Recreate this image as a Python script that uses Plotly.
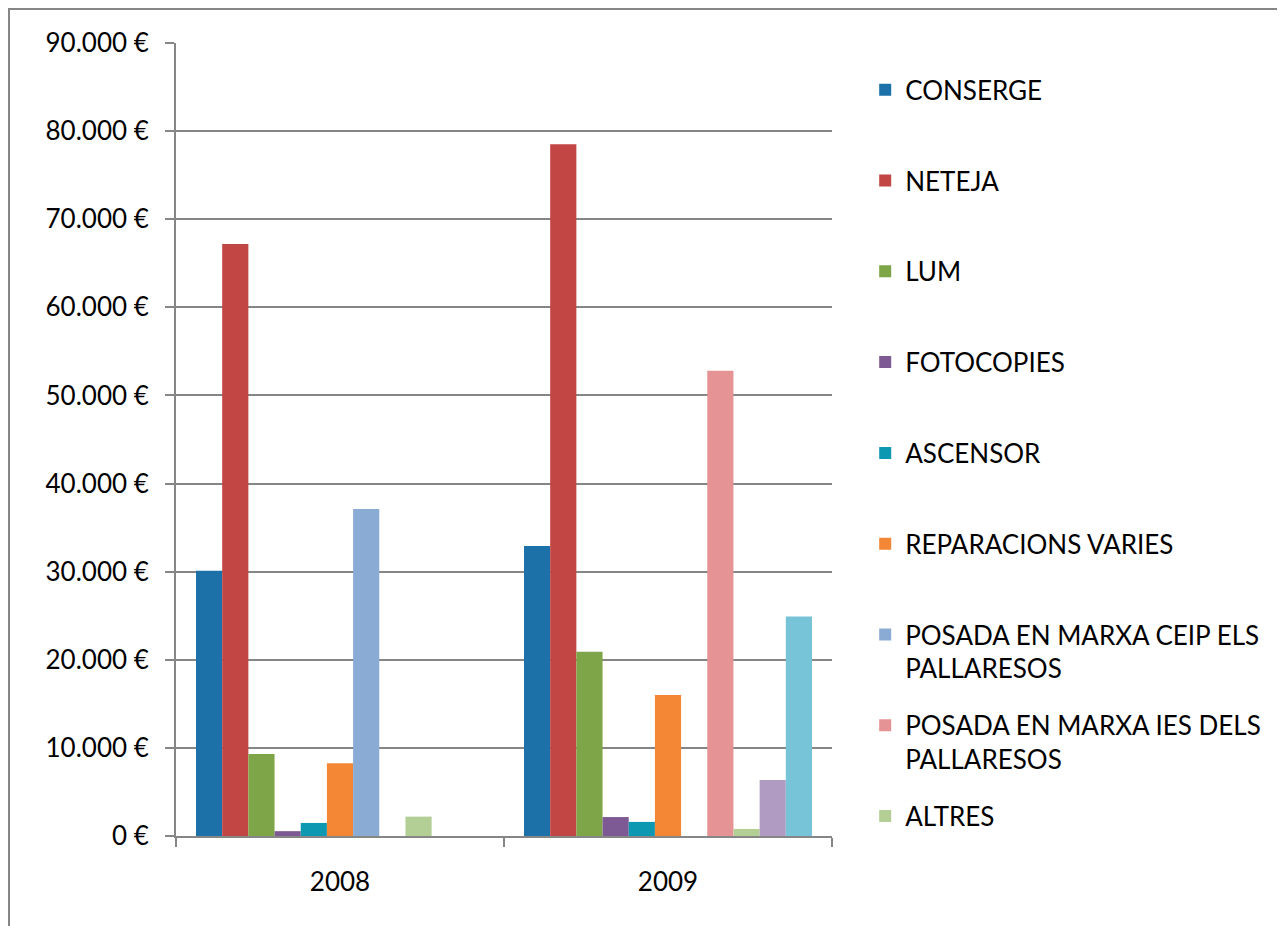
import plotly.graph_objects as go

years = ["2008", "2009"]
series_names = [
    "CONSERGE",
    "NETEJA",
    "LUM",
    "FOTOCOPIES",
    "ASCENSOR",
    "REPARACIONS VARIES",
    "POSADA EN MARXA CEIP ELS<br>PALLARESOS",
    "POSADA EN MARXA IES DELS<br>PALLARESOS",
    "ALTRES",
    "SÈRIE 10",
    "SÈRIE 11",
]
conserge = [30100, 32900]
neteja = [67200, 78500]
lum = [9300, 20900]
fotocopies = [550, 2150]
ascensor = [1480, 1600]
reparacions = [8250, 16000]
posada_ceip = [37100, 0]
posada_ies = [0, 52800]
altres = [2200, 800]
serie10 = [0, 6350]
serie11 = [0, 24900]
values = [conserge, neteja, lum, fotocopies, ascensor, reparacions,
          posada_ceip, posada_ies, altres, serie10, serie11]
in_legend = [True] * 9 + [False, False]
colors = ["#1C71A8", "#C24644", "#7EA547", "#7E5A95", "#0C98B1", "#F48736",
          "#8AACD4", "#E69395", "#B3CF95", "#B09CC3", "#77C3D8"]
y_ticks = [0, 10000, 20000, 30000, 40000, 50000, 60000, 70000, 80000, 90000]
y_ticktext = [f"{v:,.0f}".replace(",", ".") + " \u20ac" for v in y_ticks]

FONT = "Lato"
fig = go.Figure()
for i, (name, vals) in enumerate(zip(series_names, values)):
    label = name if "<br>" in name else name + "<br>&nbsp;"
    fig.add_trace(go.Bar(
        x=years, y=vals, name=label, legendgroup=f"g{i}",
        showlegend=in_legend[i],
        marker=dict(color=colors[i], line=dict(width=0)),
    ))

W, H = 1277, 918
L, T = 168, 35
PW, PH = 656, 793
fig.update_layout(
    width=W, height=H,
    margin=dict(l=L, r=W - L - PW, t=T, b=H - T - PH),
    paper_bgcolor="white", plot_bgcolor="white",
    barmode="group", bargap=0.122, bargroupgap=0,
    font=dict(family=FONT, size=26, color="black"),
    showlegend=True,
    legend=dict(
        x=1.0506, xanchor="left", y=0.9706, yanchor="top",
        valign="top", tracegroupgap=20.2, maxheight=H,
        font=dict(family=FONT, size=26, color="black"),
        bgcolor="rgba(0,0,0,0)", borderwidth=0,
    ),
    xaxis=dict(
        type="category", showgrid=False,
        showline=True, linecolor="#868686", linewidth=2,
        ticks="outside", tickson="boundaries", ticklen=9,
        tickcolor="#868686", tickwidth=2,
        ticklabelstandoff=22,
        tickfont=dict(family=FONT, size=26, color="black"),
    ),
    yaxis=dict(
        range=[0, 90000], tickmode="array", tickvals=y_ticks, ticktext=y_ticktext,
        showgrid=True, gridcolor="#868686", gridwidth=1.5,
        showline=True, linecolor="#868686", linewidth=2,
        ticks="outside", ticklen=9, tickcolor="#868686", tickwidth=2,
        ticklabelstandoff=11, zeroline=False,
        tickfont=dict(family=FONT, size=26, color="black"),
    ),
    shapes=[dict(
        type="rect", xref="paper", yref="paper",
        x0=(1 - L) / PW, x1=2.0, y0=-1.0, y1=(PH + T - 1) / PH,
        line=dict(color="#868686", width=2), fillcolor="rgba(0,0,0,0)",
        layer="below",
    )],
)

fig.write_html("out.html")
